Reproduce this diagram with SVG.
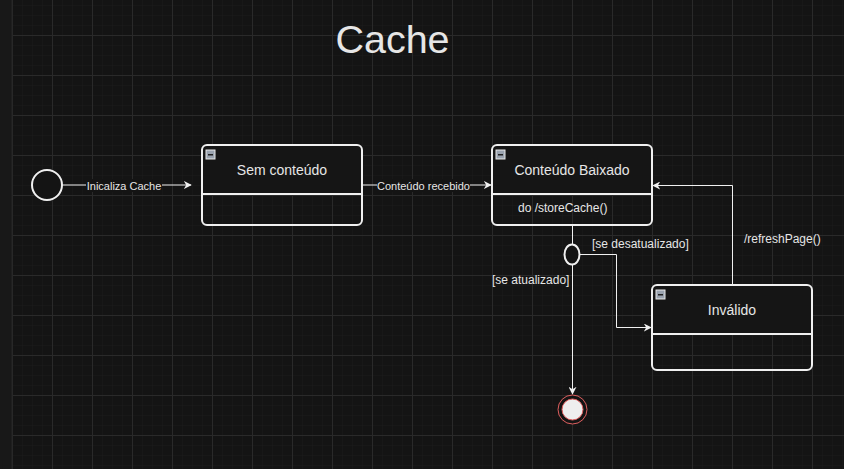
<svg xmlns="http://www.w3.org/2000/svg" width="844" height="469" viewBox="0 0 844 469">
<defs>
<pattern id="minor" x="12" y="5" width="10" height="10" patternUnits="userSpaceOnUse">
<path d="M0 0H10M0 0V10" fill="none" stroke="#1c1c1c" stroke-width="1"/>
</pattern>
<pattern id="major" x="12" y="-5" width="40" height="40" patternUnits="userSpaceOnUse">
<path d="M0 0.5H40M0.5 0V40" fill="none" stroke="#2a2a2a" stroke-width="1"/>
</pattern>
<marker id="arr" viewBox="0 0 10 10" refX="9" refY="5" markerWidth="8" markerHeight="8" markerUnits="userSpaceOnUse" orient="auto">
<path d="M0 0L10 5L0 10L3 5Z" fill="#f0f0f0"/>
</marker>
<g id="minus">
<rect x="0" y="0" width="9" height="9" fill="#9aa3b0" stroke="#e8e8e8" stroke-width="1"/>
<rect x="2" y="4" width="5" height="1.5" fill="#222"/>
</g>
</defs>
<style>
.box{fill:#151515;stroke:#f0f0f0;stroke-width:2}
.body{fill:none;stroke:#f0f0f0;stroke-width:2}
.t{font-family:"Liberation Sans",Arial,sans-serif;fill:#e6e6e6}
.title{font-size:14px;text-anchor:middle}
.lbl{font-size:11px}
.lbl12{font-size:12px}
.edge{fill:none;stroke:#f0f0f0;stroke-width:1}
.lblbg{fill:#141414}
</style>
<rect width="844" height="469" fill="#141414"/>
<rect width="844" height="469" fill="url(#minor)"/>
<rect width="844" height="469" fill="url(#major)"/>
<rect x="0" y="0" width="12" height="469" fill="#181818"/>
<line x1="12" y1="0" x2="12" y2="469" stroke="#262626"/>

<text class="t" x="392.5" y="53" font-size="39.5" text-anchor="middle" fill="#f2f2f2">Cache</text>

<g id="connectors">
<path class="edge" d="M62 185H191" marker-end="url(#arr)"/>
<rect class="lblbg" x="86" y="179" width="76" height="13"/>
<text class="t lbl" x="124" y="189.5" text-anchor="middle">Inicaliza Cache</text>

<path class="edge" d="M362 185H491" marker-end="url(#arr)"/>
<rect class="lblbg" x="377" y="179" width="93" height="13"/>
<text class="t lbl" x="423.5" y="189.5" text-anchor="middle">Conteúdo recebido</text>

<path class="edge" d="M572.5 225V244"/>
<path class="edge" d="M572.5 265V394" marker-end="url(#arr)"/>
<path class="edge" d="M580 254.5H616.5V327.5H651" marker-end="url(#arr)"/>
<path class="edge" d="M732.5 285V185.5H653" marker-end="url(#arr)"/>

<text class="t lbl12" x="592" y="248">[se desatualizado]</text>
<text class="t lbl12" x="492" y="284">[se atualizado]</text>
<text class="t lbl12" x="744" y="243">/refreshPage()</text>
</g>

<g id="initial">
<circle cx="47" cy="185" r="15" fill="#141414" stroke="#f0f0f0" stroke-width="2"/>
</g>

<g id="sem-conteudo">
<path class="box" d="M202 194V150a5 5 0 0 1 5-5h150a5 5 0 0 1 5 5v44Z"/>
<path class="body" d="M202 194V220a5 5 0 0 0 5 5h150a5 5 0 0 0 5-5V194Z"/>
<use href="#minus" x="206" y="150"/>
<text class="t title" x="282" y="175">Sem conteúdo</text>
</g>

<g id="conteudo-baixado">
<path class="box" d="M492 194V150a5 5 0 0 1 5-5h150a5 5 0 0 1 5 5v44Z"/>
<path class="body" d="M492 194V220a5 5 0 0 0 5 5h150a5 5 0 0 0 5-5V194Z"/>
<use href="#minus" x="496" y="150"/>
<text class="t title" x="572" y="175">Conteúdo Baixado</text>
<text class="t lbl12" x="518" y="212">do /storeCache()</text>
</g>

<g id="choice">
<ellipse cx="572" cy="254.5" rx="7.5" ry="10" fill="#141414" stroke="#f0f0f0" stroke-width="2"/>
</g>

<g id="invalido">
<path class="box" d="M652 334V290a5 5 0 0 1 5-5h150a5 5 0 0 1 5 5v44Z"/>
<path class="body" d="M652 334V365a5 5 0 0 0 5 5h150a5 5 0 0 0 5-5V334Z"/>
<use href="#minus" x="656" y="290"/>
<text class="t title" x="732" y="315">Inválido</text>
</g>

<g id="final">
<circle cx="572.5" cy="409.5" r="14.5" fill="#141414" stroke="#e06060" stroke-width="1"/>
<circle cx="572.5" cy="409.5" r="10.5" fill="#eeeeee" stroke="#e06060" stroke-width="1"/>
</g>
</svg>
